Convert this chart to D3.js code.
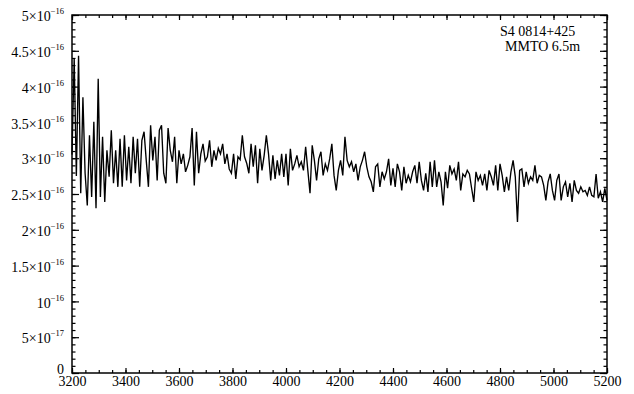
<!DOCTYPE html>
<html>
<head>
<meta charset="utf-8">
<script src="https://cdn.jsdelivr.net/npm/d3@7"></script>
<style>
  body { margin: 0; background: #fff; }
  svg { display: block; }
  .ax text { font-family: "Liberation Serif", serif; font-size: 14px; fill: #000; }
  .ax path { display: none; }
  .ax line { stroke: #000; stroke-width: 1.2; }
</style>
</head>
<body>
<div id="chart"></div>
<script>
// spectrum, flux in units of 1e-16 erg/s/cm2/A, evenly sampled from 3200 to 5200 A
const lambdaStart = 3200, lambdaEnd = 5200;
const flux = [
  3.05, 4.40, 2.75, 4.43, 2.51, 3.85, 2.79, 2.34, 3.32, 2.46,
  3.51, 2.30, 4.11, 2.46, 3.30, 2.39, 3.11, 2.74, 3.39, 2.65,
  3.11, 2.60, 3.27, 2.60, 3.32, 2.69, 3.16, 2.65, 3.30, 2.79,
  3.27, 2.60, 3.25, 3.37, 2.97, 2.60, 3.46, 2.97, 3.30, 2.69,
  3.39, 3.46, 2.79, 2.65, 3.42, 3.11, 2.95, 3.30, 2.65, 3.11,
  2.92, 3.06, 2.81, 2.90, 3.02, 3.42, 2.62, 3.37, 2.79, 3.06,
  3.20, 2.96, 3.02, 3.25, 2.88, 3.11, 2.97, 3.14, 3.06, 3.20,
  2.92, 3.06, 2.85, 2.79, 3.06, 2.71, 3.02, 2.98, 3.32, 3.02,
  2.93,
  2.79, 3.20, 2.88, 3.18, 2.65, 3.13, 2.83, 3.04, 3.32, 3.06,
  2.69, 3.04, 2.71, 2.97, 2.76, 3.06, 2.74, 3.06, 2.62, 3.13,
  2.83, 2.92, 3.04, 2.88, 2.95, 2.83, 3.16, 2.83, 2.51, 3.18,
  2.97, 2.69, 2.99, 3.09, 2.76, 2.92, 2.83, 2.99, 3.20, 2.76,
  2.55, 2.83, 2.97, 2.76, 3.30, 2.97, 2.88, 2.95, 2.81, 2.92,
  2.69, 2.88, 2.97, 3.09, 2.88, 2.74, 2.67, 2.53, 2.88, 2.92,
  2.60, 2.81, 2.71, 2.81, 2.99, 2.62, 2.86, 2.60, 2.92, 2.81,
  2.55, 2.88, 2.65, 2.76, 2.67, 2.81, 2.90, 2.65, 2.95, 2.69,
  2.55, 2.79, 2.53, 2.95, 2.60,
  2.97, 2.60, 2.81, 2.67, 2.34, 2.81, 2.58, 2.90, 2.78, 2.85,
  2.69, 2.95, 2.55, 2.78, 2.74, 2.83, 2.78, 2.58, 2.39, 2.81,
  2.69, 2.76, 2.62, 2.78, 2.55, 2.83, 2.74, 2.62, 2.90, 2.55,
  2.92, 2.76, 2.53, 2.74, 2.55, 2.81, 2.97, 2.74, 2.11, 2.83,
  2.85, 2.60, 2.81, 2.65, 2.74, 2.69, 2.90, 2.65, 2.76, 2.74,
  2.62, 2.41, 2.67, 2.78, 2.55, 2.41, 2.69, 2.78, 2.41, 2.60,
  2.67, 2.46, 2.65, 2.39, 2.69, 2.55, 2.51, 2.60, 2.53, 2.55,
  2.48, 2.60, 2.48, 2.46, 2.78, 2.44, 2.53, 2.39, 2.58, 2.41
];

const xMajor = [3200, 3400, 3600, 3800, 4000, 4200, 4400, 4600, 4800, 5000, 5200];
const yMajor = [0, 0.5, 1, 1.5, 2, 2.5, 3, 3.5, 4, 4.5, 5];
// label text: [mantissa part, exponent]
const yLabels = [
  ["0", ""], ["5\u00d710", "\u221217"], ["10", "\u221216"], ["1.5\u00d710", "\u221216"],
  ["2\u00d710", "\u221216"], ["2.5\u00d710", "\u221216"], ["3\u00d710", "\u221216"],
  ["3.5\u00d710", "\u221216"], ["4\u00d710", "\u221216"], ["4.5\u00d710", "\u221216"],
  ["5\u00d710", "\u221216"]
];
const notes = ["S4 0814+425", "MMTO 6.5m"];

const W = 634, H = 394;
const margin = {top: 15, right: 27, bottom: 21, left: 72};
const width = W - margin.left - margin.right,
      height = H - margin.top - margin.bottom;

const svg = d3.select("#chart").append("svg")
  .attr("width", W).attr("height", H);
const g = svg.append("g")
  .attr("transform", `translate(${margin.left},${margin.top})`);

const x = d3.scaleLinear().domain([lambdaStart, lambdaEnd]).range([0, width]);
const y = d3.scaleLinear().domain([0, 5]).range([height, 0]);

const step = (lambdaEnd - lambdaStart) / (flux.length - 1);
const data = flux.map((f, i) => ({lam: lambdaStart + i * step, f: f}));

// spectrum
g.append("path")
  .datum(data)
  .attr("fill", "none")
  .attr("stroke", "#000")
  .attr("stroke-width", 1.35)
  .attr("d", d3.line().x(d => x(d.lam)).y(d => y(d.f)));

const xMinor = x.ticks(40);
const yMinor = y.ticks(50);

// minor ticks, all four sides
g.append("g").attr("class", "ax").attr("transform", `translate(0,${height})`)
  .call(d3.axisBottom(x).tickValues(xMinor).tickSize(-3).tickFormat(""));
g.append("g").attr("class", "ax")
  .call(d3.axisTop(x).tickValues(xMinor).tickSize(-3).tickFormat(""));
g.append("g").attr("class", "ax")
  .call(d3.axisLeft(y).tickValues(yMinor).tickSize(-3.5).tickFormat(""));
g.append("g").attr("class", "ax").attr("transform", `translate(${width},0)`)
  .call(d3.axisRight(y).tickValues(yMinor).tickSize(-3.5).tickFormat(""));

// major ticks
g.append("g").attr("class", "ax").attr("transform", `translate(0,${height})`)
  .call(d3.axisBottom(x).tickValues(xMajor).tickSizeInner(-5).tickSizeOuter(0)
    .tickPadding(3).tickFormat(d3.format("d")));
g.append("g").attr("class", "ax")
  .call(d3.axisTop(x).tickValues(xMajor).tickSize(-5).tickFormat(""));
g.append("g").attr("class", "ax").attr("transform", `translate(${width},0)`)
  .call(d3.axisRight(y).tickValues(yMajor).tickSize(-7).tickFormat(""));

const yAxis = g.append("g").attr("class", "ax")
  .call(d3.axisLeft(y).tickValues(yMajor).tickSizeInner(-7).tickSizeOuter(0)
    .tickPadding(8).tickFormat(""));

yAxis.selectAll(".tick text").each(function(d, i) {
  const t = d3.select(this).attr("dy", i === 0 ? "0.05em" : "0.4em");
  t.text(null);
  t.append("tspan").text(yLabels[i][0]);
  if (yLabels[i][1]) {
    t.append("tspan").attr("dy", -7).attr("font-size", 8.5).text(yLabels[i][1]);
  }
});

// frame
g.append("rect")
  .attr("width", width).attr("height", height)
  .attr("fill", "none").attr("stroke", "#000").attr("stroke-width", 1.5);

// object / telescope label
g.selectAll(".note").data(notes).join("text")
  .attr("class", "note")
  .attr("x", (d, i) => i === 0 ? 428 : 433)
  .attr("y", (d, i) => 21 + i * 15)
  .style("font-family", "Liberation Serif, serif")
  .style("font-size", "14px")
  .text(d => d);
</script>
</body>
</html>
